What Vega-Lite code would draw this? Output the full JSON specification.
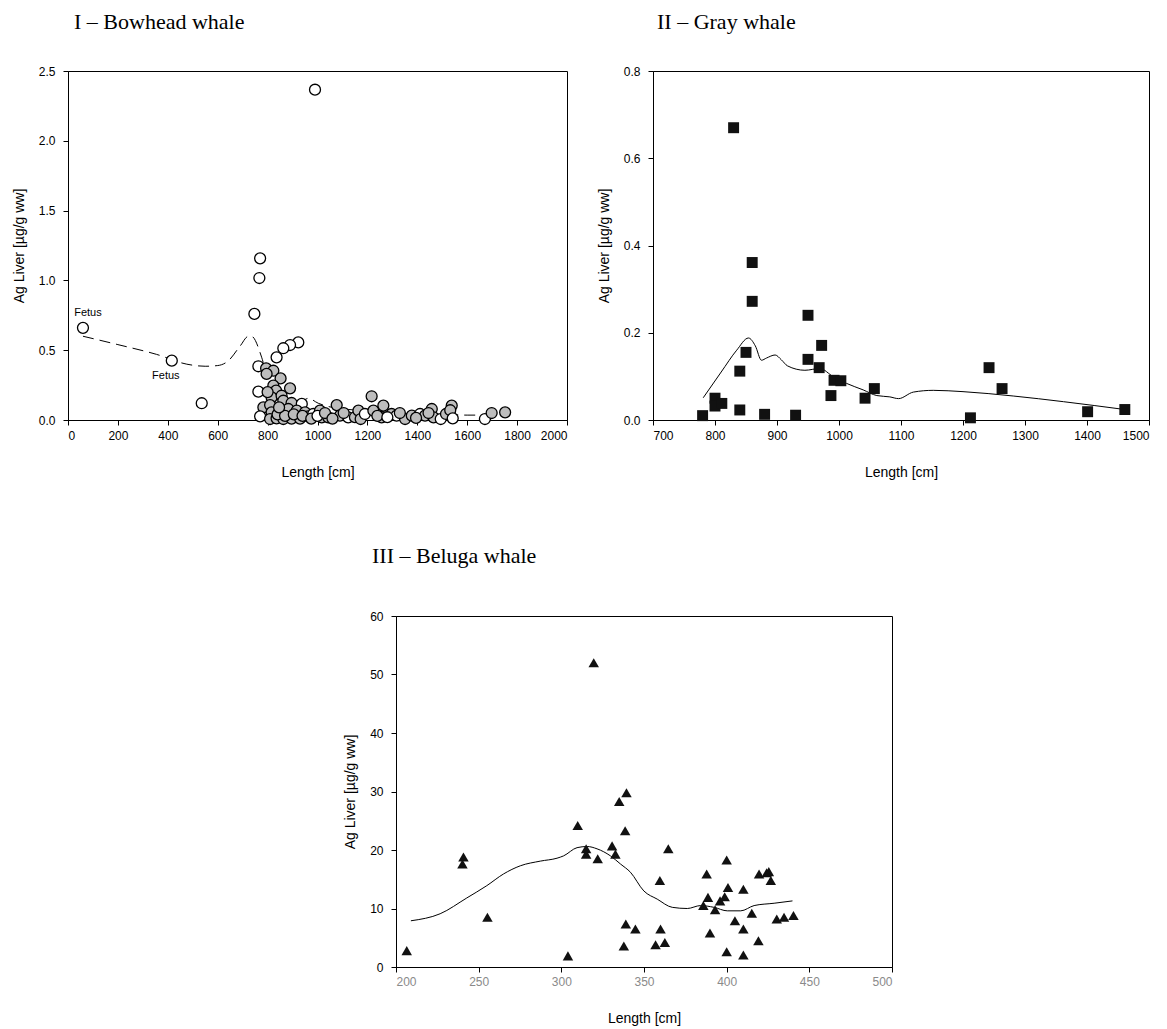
{
  "$schema": "https://vega.github.io/schema/vega-lite/v6.json",
  "background": "white",
  "padding": {"left": 11, "top": 10, "right": 5, "bottom": 5},
  "config": {
    "view": {"stroke": "black", "strokeWidth": 1},
    "axis": {"domainColor": "black", "tickColor": "black", "labelColor": "black", "labelFont": "Liberation Sans", "labelFontSize": 12, "titleFont": "Liberation Sans", "titleFontSize": 14, "titleFontWeight": "normal", "titleColor": "black", "grid": false, "tickSize": 5},
    "title": {"font": "Liberation Serif", "fontSize": 22, "fontWeight": "normal", "anchor": "start", "color": "black", "frame": "group", "baseline": "alphabetic"}
  },
  "datasets": {
    "bowhead": [
      {"L": 60, "v": 0.66, "g": "open"}, {"L": 416, "v": 0.425, "g": "open"}, {"L": 536, "v": 0.12, "g": "open"}, {"L": 990, "v": 2.366, "g": "open"},
      {"L": 770, "v": 1.158, "g": "open"}, {"L": 767, "v": 1.017, "g": "open"}, {"L": 747, "v": 0.76, "g": "open"}, {"L": 923, "v": 0.556, "g": "open"},
      {"L": 890, "v": 0.537, "g": "open"}, {"L": 863, "v": 0.514, "g": "open"}, {"L": 836, "v": 0.449, "g": "open"}, {"L": 763, "v": 0.385, "g": "open"},
      {"L": 794, "v": 0.37, "g": "shaded"}, {"L": 823, "v": 0.353, "g": "shaded"}, {"L": 796, "v": 0.33, "g": "shaded"}, {"L": 852, "v": 0.298, "g": "shaded"},
      {"L": 763, "v": 0.203, "g": "open"}, {"L": 823, "v": 0.246, "g": "shaded"}, {"L": 834, "v": 0.21, "g": "shaded"}, {"L": 890, "v": 0.227, "g": "shaded"},
      {"L": 816, "v": 0.162, "g": "shaded"}, {"L": 856, "v": 0.174, "g": "shaded"}, {"L": 783, "v": 0.091, "g": "shaded"}, {"L": 810, "v": 0.107, "g": "shaded"},
      {"L": 863, "v": 0.138, "g": "shaded"}, {"L": 896, "v": 0.122, "g": "shaded"}, {"L": 937, "v": 0.115, "g": "open"}, {"L": 770, "v": 0.026, "g": "open"},
      {"L": 816, "v": 0.055, "g": "shaded"}, {"L": 850, "v": 0.067, "g": "shaded"}, {"L": 883, "v": 0.079, "g": "shaded"}, {"L": 917, "v": 0.067, "g": "shaded"},
      {"L": 950, "v": 0.055, "g": "shaded"}, {"L": 810, "v": 0.007, "g": "shaded"}, {"L": 836, "v": 0.012, "g": "shaded"}, {"L": 863, "v": 0.007, "g": "shaded"},
      {"L": 896, "v": 0.01, "g": "shaded"}, {"L": 930, "v": 0.01, "g": "shaded"}, {"L": 963, "v": 0.026, "g": "shaded"}, {"L": 983, "v": 0.043, "g": "open"},
      {"L": 1010, "v": 0.067, "g": "shaded"}, {"L": 1017, "v": 0.019, "g": "shaded"}, {"L": 1043, "v": 0.019, "g": "shaded"}, {"L": 1077, "v": 0.107, "g": "shaded"},
      {"L": 1090, "v": 0.031, "g": "shaded"}, {"L": 1123, "v": 0.019, "g": "open"}, {"L": 1150, "v": 0.02, "g": "shaded"}, {"L": 1164, "v": 0.067, "g": "shaded"},
      {"L": 1173, "v": 0.007, "g": "shaded"}, {"L": 1190, "v": 0.043, "g": "open"}, {"L": 1217, "v": 0.17, "g": "shaded"}, {"L": 1224, "v": 0.067, "g": "shaded"},
      {"L": 1257, "v": 0.019, "g": "shaded"}, {"L": 1264, "v": 0.103, "g": "shaded"}, {"L": 1297, "v": 0.043, "g": "shaded"}, {"L": 1317, "v": 0.031, "g": "open"},
      {"L": 1351, "v": 0.007, "g": "shaded"}, {"L": 1378, "v": 0.031, "g": "shaded"}, {"L": 1411, "v": 0.043, "g": "open"}, {"L": 1431, "v": 0.031, "g": "shaded"},
      {"L": 1458, "v": 0.079, "g": "shaded"}, {"L": 1465, "v": 0.019, "g": "shaded"}, {"L": 1494, "v": 0.007, "g": "open"}, {"L": 1515, "v": 0.043, "g": "shaded"},
      {"L": 1538, "v": 0.103, "g": "shaded"}, {"L": 1532, "v": 0.07, "g": "shaded"}, {"L": 1542, "v": 0.012, "g": "open"}, {"L": 1671, "v": 0.007, "g": "open"},
      {"L": 1698, "v": 0.05, "g": "shaded"}, {"L": 1752, "v": 0.055, "g": "shaded"},
      {"L": 840, "v": 0.04, "g": "shaded"}, {"L": 870, "v": 0.03, "g": "shaded"}, {"L": 905, "v": 0.04, "g": "shaded"}, {"L": 940, "v": 0.03, "g": "shaded"},
      {"L": 975, "v": 0.01, "g": "shaded"}, {"L": 1000, "v": 0.03, "g": "open"}, {"L": 1030, "v": 0.05, "g": "shaded"}, {"L": 1060, "v": 0.01, "g": "shaded"},
      {"L": 1105, "v": 0.05, "g": "shaded"}, {"L": 1240, "v": 0.03, "g": "shaded"}, {"L": 1280, "v": 0.02, "g": "open"}, {"L": 1330, "v": 0.05, "g": "shaded"},
      {"L": 1395, "v": 0.015, "g": "shaded"}, {"L": 1445, "v": 0.05, "g": "shaded"}, {"L": 800, "v": 0.2, "g": "shaded"}, {"L": 846, "v": 0.09, "g": "shaded"}
    ],
    "bowline": [
      {"L": 60, "v": 0.6}, {"L": 200, "v": 0.54}, {"L": 355, "v": 0.47}, {"L": 476, "v": 0.4}, {"L": 550, "v": 0.385}, {"L": 600, "v": 0.39},
      {"L": 640, "v": 0.42}, {"L": 690, "v": 0.53}, {"L": 723, "v": 0.6}, {"L": 735, "v": 0.6}, {"L": 776, "v": 0.45}, {"L": 800, "v": 0.3},
      {"L": 830, "v": 0.2}, {"L": 880, "v": 0.14}, {"L": 930, "v": 0.13}, {"L": 963, "v": 0.155}, {"L": 1003, "v": 0.12}, {"L": 1040, "v": 0.098},
      {"L": 1100, "v": 0.08}, {"L": 1160, "v": 0.07}, {"L": 1240, "v": 0.065}, {"L": 1300, "v": 0.05}, {"L": 1400, "v": 0.045}, {"L": 1520, "v": 0.04},
      {"L": 1600, "v": 0.035}, {"L": 1670, "v": 0.035}, {"L": 1720, "v": 0.04}
    ],
    "fetus1": [{"L": 60, "v": 0.66, "label": "Fetus"}],
    "fetus2": [{"L": 416, "v": 0.425, "label": "Fetus"}],
    "gray": [
      {"L": 780, "v": 0.01}, {"L": 800, "v": 0.05}, {"L": 800, "v": 0.032}, {"L": 811, "v": 0.038}, {"L": 830, "v": 0.67},
      {"L": 840, "v": 0.112}, {"L": 840, "v": 0.023}, {"L": 850, "v": 0.155}, {"L": 860, "v": 0.361}, {"L": 860, "v": 0.272},
      {"L": 880, "v": 0.013}, {"L": 930, "v": 0.011}, {"L": 950, "v": 0.24}, {"L": 950, "v": 0.139}, {"L": 972, "v": 0.171},
      {"L": 968, "v": 0.12}, {"L": 987, "v": 0.056}, {"L": 992, "v": 0.091}, {"L": 1003, "v": 0.09}, {"L": 1042, "v": 0.05},
      {"L": 1057, "v": 0.072}, {"L": 1212, "v": 0.005}, {"L": 1242, "v": 0.12}, {"L": 1263, "v": 0.072}, {"L": 1401, "v": 0.019},
      {"L": 1461, "v": 0.024}
    ],
    "grayline": [
      {"L": 781, "v": 0.051}, {"L": 810, "v": 0.11}, {"L": 835, "v": 0.16}, {"L": 854, "v": 0.188}, {"L": 865, "v": 0.17}, {"L": 875, "v": 0.137},
      {"L": 883, "v": 0.142}, {"L": 897, "v": 0.149}, {"L": 907, "v": 0.138}, {"L": 917, "v": 0.124}, {"L": 945, "v": 0.114}, {"L": 969, "v": 0.118},
      {"L": 991, "v": 0.099}, {"L": 1012, "v": 0.084}, {"L": 1039, "v": 0.069}, {"L": 1061, "v": 0.056}, {"L": 1082, "v": 0.053}, {"L": 1096, "v": 0.049},
      {"L": 1120, "v": 0.064}, {"L": 1152, "v": 0.068}, {"L": 1200, "v": 0.065}, {"L": 1281, "v": 0.055}, {"L": 1362, "v": 0.042}, {"L": 1461, "v": 0.024}
    ],
    "beluga": [
      {"L": 206.5, "v": 2.8}, {"L": 240.8, "v": 18.8}, {"L": 240.2, "v": 17.6}, {"L": 255.3, "v": 8.5}, {"L": 304, "v": 1.9},
      {"L": 309.9, "v": 24.2}, {"L": 319.6, "v": 52}, {"L": 315, "v": 20.2}, {"L": 315, "v": 19.3}, {"L": 322, "v": 18.5},
      {"L": 330.7, "v": 20.7}, {"L": 332.7, "v": 19.3}, {"L": 335, "v": 28.3}, {"L": 339.4, "v": 29.8}, {"L": 338.6, "v": 23.3},
      {"L": 339, "v": 7.35}, {"L": 337.8, "v": 3.6}, {"L": 344.8, "v": 6.5}, {"L": 364.7, "v": 20.2}, {"L": 359.6, "v": 14.8},
      {"L": 360, "v": 6.5}, {"L": 357, "v": 3.8}, {"L": 362.6, "v": 4.2}, {"L": 387.9, "v": 15.9}, {"L": 400, "v": 18.3},
      {"L": 388.7, "v": 11.9}, {"L": 385.9, "v": 10.5}, {"L": 393, "v": 9.8}, {"L": 396, "v": 11.3}, {"L": 398.8, "v": 12.0},
      {"L": 400.8, "v": 13.6}, {"L": 410.1, "v": 13.3}, {"L": 389.9, "v": 5.8}, {"L": 400, "v": 2.6}, {"L": 410.1, "v": 2.05},
      {"L": 405, "v": 7.9}, {"L": 410.1, "v": 6.5}, {"L": 415.2, "v": 9.2}, {"L": 419.2, "v": 4.5}, {"L": 419.6, "v": 15.9},
      {"L": 424.2, "v": 16.1}, {"L": 425.5, "v": 16.3}, {"L": 426.7, "v": 14.8}, {"L": 430.3, "v": 8.2}, {"L": 434.7, "v": 8.5},
      {"L": 440.4, "v": 8.8}
    ],
    "belugaline": [
      {"L": 209, "v": 7.9}, {"L": 226.7, "v": 9.1}, {"L": 242.8, "v": 11.8}, {"L": 254.9, "v": 13.9}, {"L": 265, "v": 15.9},
      {"L": 275.2, "v": 17.3}, {"L": 287.3, "v": 18.1}, {"L": 297.4, "v": 18.6}, {"L": 301.4, "v": 19}, {"L": 309.5, "v": 20.4},
      {"L": 315.6, "v": 20.6}, {"L": 321.6, "v": 20.2}, {"L": 329.7, "v": 19}, {"L": 335.8, "v": 17.6}, {"L": 341.8, "v": 16.2},
      {"L": 349.9, "v": 13}, {"L": 358, "v": 11.6}, {"L": 367.1, "v": 10.2}, {"L": 376.2, "v": 10}, {"L": 384.2, "v": 10.5},
      {"L": 392.3, "v": 10.2}, {"L": 400.4, "v": 9.6}, {"L": 408.5, "v": 9.6}, {"L": 416.6, "v": 10.5}, {"L": 428.7, "v": 10.9},
      {"L": 439.8, "v": 11.3}
    ]
  },
  "vconcat": [
    {
      "hconcat": [
        {
          "title": {"text": "I – Bowhead whale", "offset": 31, "dx": 6},
          "width": 499, "height": 349,
          "layer": [
            {
              "data": {"name": "bowline"},
              "mark": {"type": "line", "color": "black", "strokeWidth": 1, "strokeDash": [11, 6], "interpolate": "monotone"},
              "encoding": {
                "x": {"field": "L", "type": "quantitative", "scale": {"domain": [0, 2000], "nice": false}, "axis": {"values": [0, 200, 400, 600, 800, 1000, 1200, 1400, 1600, 1800, 2000], "title": "Length [cm]", "labelPadding": 5, "titlePadding": 24, "format": "d"}},
                "y": {"field": "v", "type": "quantitative", "scale": {"domain": [0, 2.5], "nice": false}, "axis": {"values": [0, 0.5, 1, 1.5, 2, 2.5], "format": ".1f", "title": "Ag Liver [µg/g ww]", "labelPadding": 8, "titlePadding": 12}}
              }
            },
            {
              "data": {"name": "bowhead"},
              "mark": {"type": "point", "shape": "circle", "size": 120, "stroke": "black", "strokeWidth": 1.3, "filled": false, "opacity": 1},
              "encoding": {
                "x": {"field": "L", "type": "quantitative"},
                "y": {"field": "v", "type": "quantitative"},
                "fill": {"field": "g", "type": "nominal", "scale": {"domain": ["open", "shaded"], "range": ["white", "#bdbdbd"]}, "legend": null}
              }
            },
            {
              "data": {"name": "fetus1"},
              "mark": {"type": "text", "font": "Liberation Sans", "fontSize": 11, "color": "black", "dx": 5, "dy": -15},
              "encoding": {"x": {"field": "L", "type": "quantitative"}, "y": {"field": "v", "type": "quantitative"}, "text": {"field": "label"}}
            },
            {
              "data": {"name": "fetus2"},
              "mark": {"type": "text", "font": "Liberation Sans", "fontSize": 11, "color": "black", "dx": -6, "dy": 15},
              "encoding": {"x": {"field": "L", "type": "quantitative"}, "y": {"field": "v", "type": "quantitative"}, "text": {"field": "label"}}
            }
          ]
        },
        {
          "title": {"text": "II – Gray whale", "offset": 31, "dx": 4},
          "width": 496, "height": 349,
          "layer": [
            {
              "data": {"name": "grayline"},
              "mark": {"type": "line", "color": "black", "strokeWidth": 1, "interpolate": "monotone"},
              "encoding": {
                "x": {"field": "L", "type": "quantitative", "scale": {"domain": [700, 1500], "nice": false}, "axis": {"values": [700, 800, 900, 1000, 1100, 1200, 1300, 1400, 1500], "title": "Length [cm]", "labelPadding": 5, "titlePadding": 24, "format": "d"}},
                "y": {"field": "v", "type": "quantitative", "scale": {"domain": [0, 0.8], "nice": false}, "axis": {"values": [0, 0.2, 0.4, 0.6, 0.8], "format": ".1f", "title": "Ag Liver [µg/g ww]", "labelPadding": 8, "titlePadding": 12}}
              }
            },
            {
              "data": {"name": "gray"},
              "mark": {"type": "point", "shape": "square", "size": 120, "filled": true, "color": "#111111", "opacity": 1},
              "encoding": {
                "x": {"field": "L", "type": "quantitative"},
                "y": {"field": "v", "type": "quantitative"}
              }
            }
          ]
        }
      ],
      "spacing": 28
    },
    {
      "hconcat": [
        {
          "width": 275, "height": 349,
          "data": {"values": []},
          "mark": "point",
          "encoding": {},
          "view": {"stroke": null}
        },
        {
          "title": {"text": "III – Beluga whale", "offset": 42, "dx": -24},
          "width": 496, "height": 351,
          "layer": [
            {
              "data": {"name": "belugaline"},
              "mark": {"type": "line", "color": "black", "strokeWidth": 1, "interpolate": "monotone"},
              "encoding": {
                "x": {"field": "L", "type": "quantitative", "scale": {"domain": [200, 500], "nice": false}, "axis": {"values": [200, 250, 300, 350, 400, 450, 500], "title": "Length [cm]", "labelPadding": 4, "titlePadding": 24, "labelColor": "#8a8a8a", "format": "d"}},
                "y": {"field": "v", "type": "quantitative", "scale": {"domain": [0, 60], "nice": false}, "axis": {"values": [0, 10, 20, 30, 40, 50, 60], "title": "Ag Liver [µg/g ww]", "labelPadding": 8, "titlePadding": 12}}
              }
            },
            {
              "data": {"name": "beluga"},
              "mark": {"type": "point", "shape": "triangle-up", "size": 110, "filled": true, "color": "#111111", "opacity": 1},
              "encoding": {
                "x": {"field": "L", "type": "quantitative"},
                "y": {"field": "v", "type": "quantitative"}
              }
            }
          ]
        }
      ],
      "spacing": 0
    }
  ],
  "spacing": 64
}
